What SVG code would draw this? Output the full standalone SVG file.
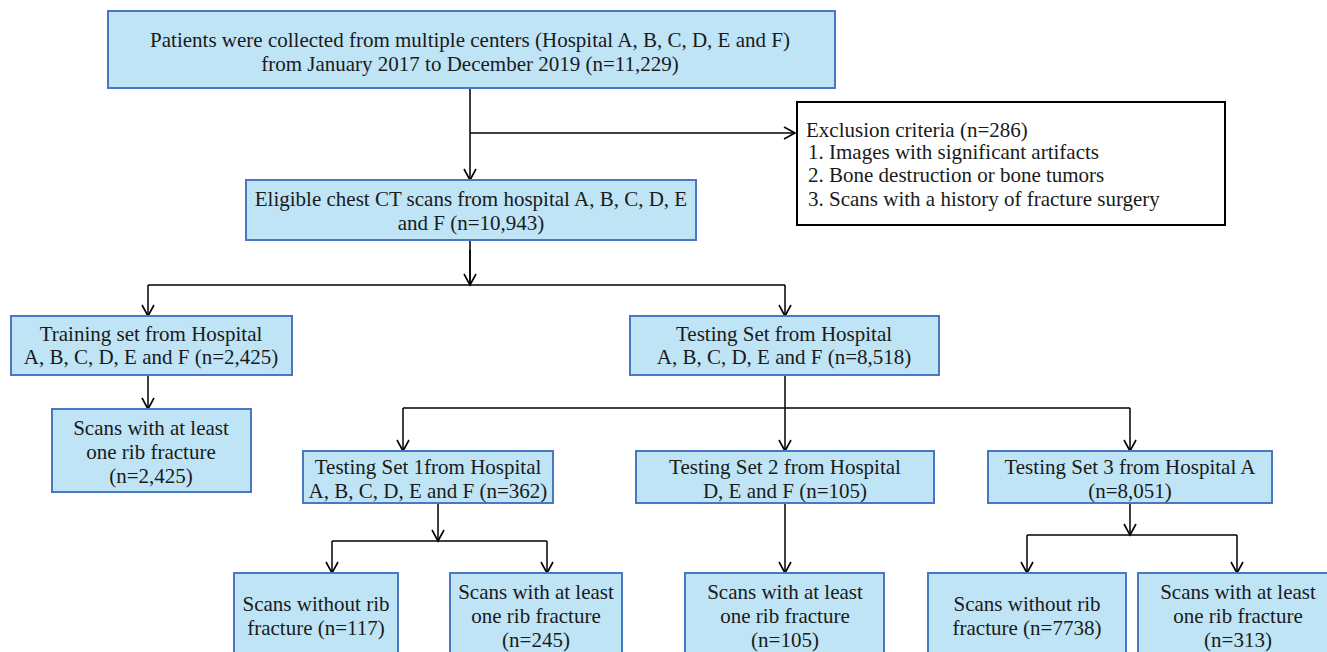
<svg xmlns="http://www.w3.org/2000/svg" width="1327" height="652" viewBox="0 0 1327 652">
<defs>
<marker id="arr" markerWidth="14" markerHeight="14" refX="12" refY="7" orient="auto" markerUnits="userSpaceOnUse">
<path d="M1,1 L12,7 L1,13" fill="none" stroke="#000" stroke-width="1.6"/>
</marker>
</defs>
<rect width="1327" height="652" fill="#fff"/>
<g id="connectors" fill="none" stroke="#000" stroke-width="1.5">
<path marker-end="url(#arr)" d="M470,88 V180"/>
<path marker-end="url(#arr)" d="M470,133 H795"/>
<path d="M470,240 V285"/>
<path d="M148,285 H785"/>
<path marker-end="url(#arr)" d="M470,250 V285"/>
<path marker-end="url(#arr)" d="M148,285 V316"/>
<path marker-end="url(#arr)" d="M785,285 V316"/>
<path marker-end="url(#arr)" d="M148,375 V409"/>
<path d="M785,375 V408"/>
<path d="M403,408 H1130"/>
<path marker-end="url(#arr)" d="M403,408 V451"/>
<path marker-end="url(#arr)" d="M785,408 V451"/>
<path marker-end="url(#arr)" d="M1130,408 V451"/>
<path marker-end="url(#arr)" d="M438,503 V541"/>
<path d="M332,541 H547"/>
<path marker-end="url(#arr)" d="M332,541 V573"/>
<path marker-end="url(#arr)" d="M547,541 V573"/>
<path marker-end="url(#arr)" d="M785,503 V573"/>
<path marker-end="url(#arr)" d="M1130,503 V535"/>
<path d="M1027,535 H1237"/>
<path marker-end="url(#arr)" d="M1027,535 V573"/>
<path marker-end="url(#arr)" d="M1237,535 V573"/>
</g>
<g id="n_excl">
<rect x="797" y="102" width="428" height="123" fill="#fff" stroke="#000" stroke-width="2"/>
<text x="806" y="137" font-family="Liberation Serif" font-size="21" fill="#1a1a1a">Exclusion criteria  (n=286)</text>
<text x="808" y="159" font-family="Liberation Serif" font-size="21" fill="#1a1a1a">1.  Images with significant artifacts</text>
<text x="808" y="182" font-family="Liberation Serif" font-size="21" fill="#1a1a1a">2.  Bone destruction or bone tumors</text>
<text x="808" y="206" font-family="Liberation Serif" font-size="21" fill="#1a1a1a">3.  Scans with a history of fracture surgery</text>
</g>
<g fill="#bfe4f6" stroke="#4a78c0" stroke-width="2">
<rect id="r_top" x="108" y="11" width="727" height="77"/>
<rect id="r_elig" x="246" y="180" width="450" height="60"/>
<rect id="r_train" x="11" y="316" width="281" height="59"/>
<rect id="r_test" x="630" y="316" width="309" height="59"/>
<rect id="r_train_frac" x="52" y="409" width="199" height="83"/>
<rect id="r_ts1" x="303" y="451" width="250" height="52"/>
<rect id="r_ts2" x="636" y="451" width="298" height="52"/>
<rect id="r_ts3" x="988" y="451" width="284" height="52"/>
<rect id="r_ts1_no" x="234" y="573" width="164" height="85"/>
<rect id="r_ts1_yes" x="450" y="573" width="172" height="85"/>
<rect id="r_ts2_yes" x="685" y="573" width="199" height="85"/>
<rect id="r_ts3_no" x="928" y="573" width="198" height="85"/>
<rect id="r_ts3_yes" x="1138" y="573" width="195" height="85"/>
</g>
<g id="n_top">
<text x="470" y="47" text-anchor="middle" font-family="Liberation Serif" font-size="21" fill="#1a1a1a">Patients were collected from multiple centers (Hospital A, B, C, D, E and F)</text>
<text x="470" y="71" text-anchor="middle" font-family="Liberation Serif" font-size="21" fill="#1a1a1a">from January 2017 to December 2019 (n=11,229)</text>
</g>
<g id="n_elig">
<text x="471" y="206" text-anchor="middle" font-family="Liberation Serif" font-size="21" fill="#1a1a1a">Eligible chest CT scans from hospital A, B, C, D, E</text>
<text x="471" y="230" text-anchor="middle" font-family="Liberation Serif" font-size="21" fill="#1a1a1a">and F (n=10,943)</text>
</g>
<g id="n_train">
<text x="151" y="341" text-anchor="middle" font-family="Liberation Serif" font-size="21" fill="#1a1a1a">Training set from Hospital</text>
<text x="151" y="364" text-anchor="middle" font-family="Liberation Serif" font-size="21" fill="#1a1a1a">A, B, C, D, E and F (n=2,425)</text>
</g>
<g id="n_test">
<text x="784" y="341" text-anchor="middle" font-family="Liberation Serif" font-size="21" fill="#1a1a1a">Testing Set from Hospital</text>
<text x="784" y="364" text-anchor="middle" font-family="Liberation Serif" font-size="21" fill="#1a1a1a">A, B, C, D, E and F (n=8,518)</text>
</g>
<g id="n_train_frac">
<text x="151" y="435" text-anchor="middle" font-family="Liberation Serif" font-size="21" fill="#1a1a1a">Scans with at least</text>
<text x="151" y="459" text-anchor="middle" font-family="Liberation Serif" font-size="21" fill="#1a1a1a">one rib fracture</text>
<text x="151" y="483" text-anchor="middle" font-family="Liberation Serif" font-size="21" fill="#1a1a1a">(n=2,425)</text>
</g>
<g id="n_ts1">
<text x="428" y="474" text-anchor="middle" font-family="Liberation Serif" font-size="21" fill="#1a1a1a">Testing Set 1from Hospital</text>
<text x="428" y="498" text-anchor="middle" font-family="Liberation Serif" font-size="21" fill="#1a1a1a">A, B, C, D, E and F (n=362)</text>
</g>
<g id="n_ts2">
<text x="785" y="474" text-anchor="middle" font-family="Liberation Serif" font-size="21" fill="#1a1a1a">Testing Set 2 from Hospital</text>
<text x="785" y="498" text-anchor="middle" font-family="Liberation Serif" font-size="21" fill="#1a1a1a">D, E and F (n=105)</text>
</g>
<g id="n_ts3">
<text x="1130" y="474" text-anchor="middle" font-family="Liberation Serif" font-size="21" fill="#1a1a1a">Testing Set 3 from Hospital A</text>
<text x="1130" y="498" text-anchor="middle" font-family="Liberation Serif" font-size="21" fill="#1a1a1a">(n=8,051)</text>
</g>
<g id="n_ts1_no">
<text x="316" y="611" text-anchor="middle" font-family="Liberation Serif" font-size="21" fill="#1a1a1a">Scans without rib</text>
<text x="316" y="635" text-anchor="middle" font-family="Liberation Serif" font-size="21" fill="#1a1a1a">fracture (n=117)</text>
</g>
<g id="n_ts1_yes">
<text x="536" y="599" text-anchor="middle" font-family="Liberation Serif" font-size="21" fill="#1a1a1a">Scans with at least</text>
<text x="536" y="623" text-anchor="middle" font-family="Liberation Serif" font-size="21" fill="#1a1a1a">one rib fracture</text>
<text x="536" y="647" text-anchor="middle" font-family="Liberation Serif" font-size="21" fill="#1a1a1a">(n=245)</text>
</g>
<g id="n_ts2_yes">
<text x="785" y="599" text-anchor="middle" font-family="Liberation Serif" font-size="21" fill="#1a1a1a">Scans with at least</text>
<text x="785" y="623" text-anchor="middle" font-family="Liberation Serif" font-size="21" fill="#1a1a1a">one rib fracture</text>
<text x="785" y="647" text-anchor="middle" font-family="Liberation Serif" font-size="21" fill="#1a1a1a">(n=105)</text>
</g>
<g id="n_ts3_no">
<text x="1027" y="611" text-anchor="middle" font-family="Liberation Serif" font-size="21" fill="#1a1a1a">Scans without rib</text>
<text x="1027" y="635" text-anchor="middle" font-family="Liberation Serif" font-size="21" fill="#1a1a1a">fracture (n=7738)</text>
</g>
<g id="n_ts3_yes">
<text x="1238" y="599" text-anchor="middle" font-family="Liberation Serif" font-size="21" fill="#1a1a1a">Scans with at least</text>
<text x="1238" y="623" text-anchor="middle" font-family="Liberation Serif" font-size="21" fill="#1a1a1a">one rib fracture</text>
<text x="1238" y="647" text-anchor="middle" font-family="Liberation Serif" font-size="21" fill="#1a1a1a">(n=313)</text>
</g>
</svg>
